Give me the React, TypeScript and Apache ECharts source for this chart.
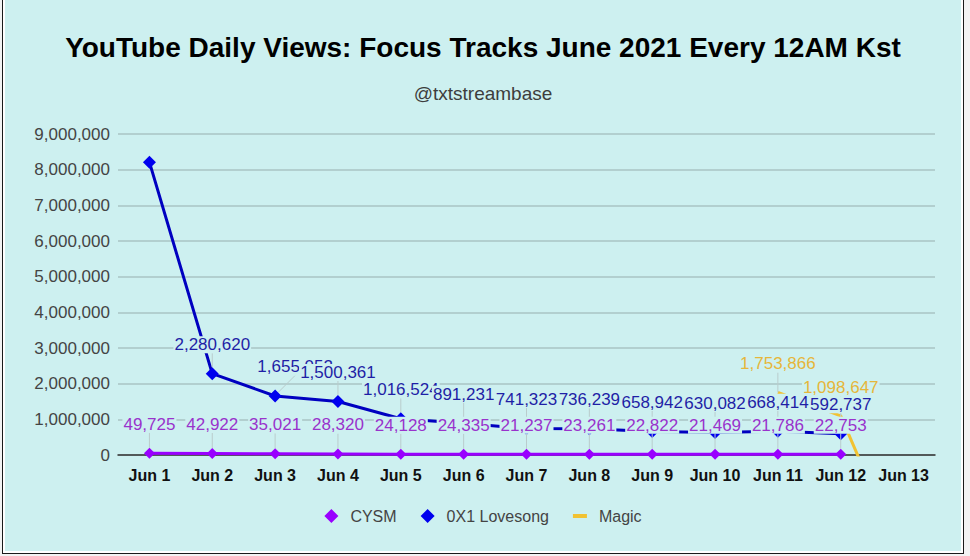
import { useEffect, useRef } from 'react'
import * as echarts from 'echarts'

const categories = ['Jun 1', 'Jun 2', 'Jun 3', 'Jun 4', 'Jun 5', 'Jun 6', 'Jun 7', 'Jun 8', 'Jun 9', 'Jun 10', 'Jun 11', 'Jun 12', 'Jun 13']
const cysmViews = [49725, 42922, 35021, 28320, 24128, 24335, 21237, 23261, 22822, 21469, 21786, 22753, null]
const lovesongViews = [8210000, 2280620, 1655052, 1500361, 1016524, 891231, 741323, 736239, 658942, 630082, 668414, 592737, null]
const magicViews = [null, null, null, null, null, null, null, null, null, null, 1753866, 1098647, -3000000]

const BG = '#cdf0f0'

const fmt = (p: any) => (typeof p.value === 'number' ? p.value.toLocaleString('en-US') : '')

const labelFor = (color: string) => ({
  show: true,
  position: 'top',
  distance: 4,
  color,
  fontSize: 17,
  fontFamily: 'Liberation Sans, Arial, sans-serif',
  backgroundColor: BG,
  padding: [0, 1],
  formatter: fmt
})

const leader = {
  show: true,
  lineStyle: { color: '#b9cccc', width: 1 }
}

export default function App() {
  const chartRef = useRef<HTMLDivElement>(null)

  useEffect(() => {
    if (!chartRef.current) return
    const chart = echarts.init(chartRef.current, null, { renderer: 'svg' })

    const option = {
      animation: false,
      backgroundColor: BG,
      textStyle: { fontFamily: 'Liberation Sans, Arial, sans-serif' },
      title: [
        {
          text: 'YouTube Daily Views: Focus Tracks June 2021 Every 12AM Kst',
          left: 'center',
          top: 28,
          textStyle: { fontSize: 28, fontWeight: 'bold', color: '#000' }
        },
        {
          text: '@txtstreambase',
          left: 'center',
          top: 79,
          textStyle: { fontSize: 19, fontWeight: 'normal', color: '#3d3d3d' }
        }
      ],
      legend: {
        top: 503,
        left: 'center',
        itemWidth: 14,
        itemHeight: 14,
        itemGap: 24,
        textStyle: { color: '#444', fontSize: 16, padding: [0, 0, 0, 7] },
        data: [
          { name: 'CYSM', icon: 'diamond' },
          { name: '0X1 Lovesong', icon: 'diamond' },
          { name: 'Magic', icon: 'path://M0,5h14v4H0z M0,0h0.01v0.01H0z M0,14h0.01v0.01H0z' }
        ]
      },
      grid: { left: 113, right: 26, top: 134, bottom: 96 },
      xAxis: {
        type: 'category',
        data: categories,
        boundaryGap: true,
        axisLine: { lineStyle: { color: '#333', width: 1.5 } },
        axisTick: { show: false },
        axisLabel: { interval: 0, color: '#111', fontSize: 16, fontWeight: 'bold', margin: 12 }
      },
      yAxis: {
        type: 'value',
        min: 0,
        max: 9000000,
        interval: 1000000,
        axisLine: { show: false },
        axisTick: { show: false },
        axisLabel: {
          color: '#444',
          fontSize: 17,
          margin: 8,
          formatter: (v: number) => v.toLocaleString('en-US')
        },
        splitLine: { lineStyle: { color: '#a8c4c4', width: 1.5 } }
      },
      series: [
        {
          name: 'CYSM',
          type: 'line',
          data: cysmViews,
          z: 3,
          symbol: 'diamond',
          symbolSize: 11,
          itemStyle: { color: '#9900ff' },
          lineStyle: { color: '#9900ff', width: 3 },
          label: labelFor('#9933cc'),
          labelLayout: { dy: -11 },
          labelLine: leader
        },
        {
          name: '0X1 Lovesong',
          type: 'line',
          data: lovesongViews.map((v, i) => (i === 0 ? { value: v, label: { show: false } } : v)),
          z: 2,
          symbol: 'diamond',
          symbolSize: 13,
          itemStyle: { color: '#0000ee' },
          lineStyle: { color: '#0000c0', width: 3 },
          label: labelFor('#1f1fa6'),
          labelLayout: (p: any) => ({ dy: -10, dx: p.dataIndex === 2 ? 20 : 0 }),
          labelLine: leader
        },
        {
          name: 'Magic',
          type: 'line',
          data: magicViews.map(v => (v !== null && v < 0 ? { value: v, label: { show: false } } : v)),
          z: 1,
          symbol: 'circle',
          symbolSize: 0.1,
          itemStyle: { color: '#f1c232' },
          lineStyle: { color: '#f1c232', width: 3 },
          label: labelFor('#e6b63a'),
          labelLayout: { dy: -16 },
          labelLine: leader
        }
      ]
    }

    chart.setOption(option as any)

    return () => {
      chart.dispose()
    }
  }, [])

  return (
    <div style={{ position: 'fixed', left: 0, top: 0, width: 970, height: 556, background: '#f3f3f3' }}>
      <div
        style={{
          position: 'absolute',
          left: 2,
          top: 0,
          width: 962,
          height: 554,
          boxSizing: 'border-box',
          border: '1px solid #1a1a1a',
          borderTop: 'none',
          background: '#fff',
          padding: '0 2px 2px 2px'
        }}
      >
        <div ref={chartRef} style={{ width: 956, height: 551 }} />
      </div>
    </div>
  )
}
